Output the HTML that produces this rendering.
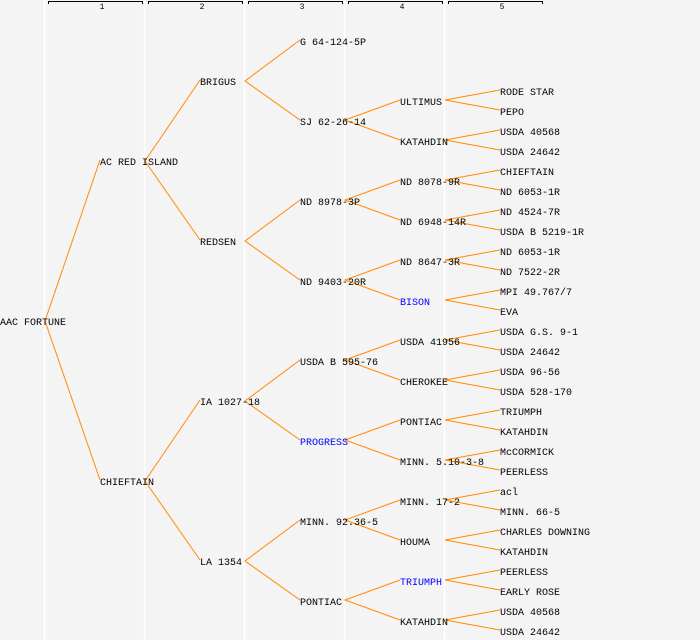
<!DOCTYPE html>
<html><head><meta charset="utf-8"><style>
html,body{margin:0;padding:0;background:#f4f4f4;}
svg{display:block}
text{font-family:"Liberation Mono","DejaVu Sans Mono",monospace;font-size:10px;fill:#000}
.b{fill:#0000ff}
</style></head><body>
<svg width="700" height="640" viewBox="0 0 700 640" xmlns="http://www.w3.org/2000/svg">
<rect width="700" height="640" fill="#f4f4f4"/>
<g stroke="#ffffff" stroke-width="1.5">
<line x1="44.5" y1="0" x2="44.5" y2="640"/><line x1="144.5" y1="0" x2="144.5" y2="640"/><line x1="244.5" y1="0" x2="244.5" y2="640"/><line x1="344.5" y1="0" x2="344.5" y2="640"/><line x1="444.5" y1="0" x2="444.5" y2="640"/>
</g>
<g stroke="#000" fill="none" stroke-width="1">
<path d="M48.5 4V1.5H142.5V4"/><path d="M148.5 4V1.5H242.5V4"/><path d="M248.5 4V1.5H342.5V4"/><path d="M348.5 4V1.5H442.5V4"/><path d="M448.5 4V1.5H542.5V4"/>
</g>
<g text-anchor="middle">
<text x="102" y="9" style="font-size:8px">1</text><text x="202" y="9" style="font-size:8px">2</text><text x="302" y="9" style="font-size:8px">3</text><text x="402" y="9" style="font-size:8px">4</text><text x="502" y="9" style="font-size:8px">5</text>
</g>
<g stroke="#ff8c00" fill="none" stroke-width="1">
<path d="M100 160L45 321L100 480"/>
<path d="M200 80L145 161L200 240"/><path d="M200 400L145 481L200 560"/>
<path d="M300 40L245 81L300 120"/><path d="M300 200L245 241L300 280"/><path d="M300 360L245 401L300 440"/><path d="M300 520L245 561L300 600"/>
<path d="M400 100L345 120L400 140"/><path d="M400 180L345 200L400 220"/><path d="M400 260L345 280L400 300"/><path d="M400 340L345 360L400 380"/><path d="M400 420L345 440L400 460"/><path d="M400 500L345 520L400 540"/><path d="M400 580L345 600L400 620"/>
<path d="M500 90L445 100L500 110"/><path d="M500 130L445 140L500 150"/><path d="M500 170L445 180L500 190"/><path d="M500 210L445 220L500 230"/><path d="M500 250L445 260L500 270"/><path d="M500 290L445 300L500 310"/><path d="M500 330L445 340L500 350"/><path d="M500 370L445 380L500 390"/><path d="M500 410L445 420L500 430"/><path d="M500 450L445 460L500 470"/><path d="M500 490L445 500L500 510"/><path d="M500 530L445 540L500 550"/><path d="M500 570L445 580L500 590"/><path d="M500 610L445 620L500 630"/>
</g>
<g transform="translate(0,-1)">
<text x="0" y="326">AAC FORTUNE</text>
<text x="100" y="166">AC RED ISLAND</text><text x="100" y="486">CHIEFTAIN</text>
<text x="200" y="86">BRIGUS</text><text x="200" y="246">REDSEN</text><text x="200" y="406">IA 1027-18</text><text x="200" y="566">LA 1354</text>
<text x="300" y="46">G 64-124-5P</text><text x="300" y="126">SJ 62-26-14</text><text x="300" y="206">ND 8978-3P</text><text x="300" y="286">ND 9403-20R</text><text x="300" y="366">USDA B 595-76</text><text x="300" y="446" class="b">PROGRESS</text><text x="300" y="526">MINN. 92.36-5</text><text x="300" y="606">PONTIAC</text>
<text x="400" y="106">ULTIMUS</text><text x="400" y="146">KATAHDIN</text><text x="400" y="186">ND 8078-9R</text><text x="400" y="226">ND 6948-14R</text><text x="400" y="266">ND 8647-3R</text><text x="400" y="306" class="b">BISON</text><text x="400" y="346">USDA 41956</text><text x="400" y="386">CHEROKEE</text><text x="400" y="426">PONTIAC</text><text x="400" y="466">MINN. 5.10-3-8</text><text x="400" y="506">MINN. 17-2</text><text x="400" y="546">HOUMA</text><text x="400" y="586" class="b">TRIUMPH</text><text x="400" y="626">KATAHDIN</text>
<text x="500" y="96">RODE STAR</text><text x="500" y="116">PEPO</text><text x="500" y="136">USDA 40568</text><text x="500" y="156">USDA 24642</text><text x="500" y="176">CHIEFTAIN</text><text x="500" y="196">ND 6053-1R</text><text x="500" y="216">ND 4524-7R</text><text x="500" y="236">USDA B 5219-1R</text><text x="500" y="256">ND 6053-1R</text><text x="500" y="276">ND 7522-2R</text><text x="500" y="296">MPI 49.767/7</text><text x="500" y="316">EVA</text><text x="500" y="336">USDA G.S. 9-1</text><text x="500" y="356">USDA 24642</text><text x="500" y="376">USDA 96-56</text><text x="500" y="396">USDA 528-170</text><text x="500" y="416">TRIUMPH</text><text x="500" y="436">KATAHDIN</text><text x="500" y="456">McCORMICK</text><text x="500" y="476">PEERLESS</text><text x="500" y="496">acl</text><text x="500" y="516">MINN. 66-5</text><text x="500" y="536">CHARLES DOWNING</text><text x="500" y="556">KATAHDIN</text><text x="500" y="576">PEERLESS</text><text x="500" y="596">EARLY ROSE</text><text x="500" y="616">USDA 40568</text><text x="500" y="636">USDA 24642</text>
</g>
</svg>
</body></html>
